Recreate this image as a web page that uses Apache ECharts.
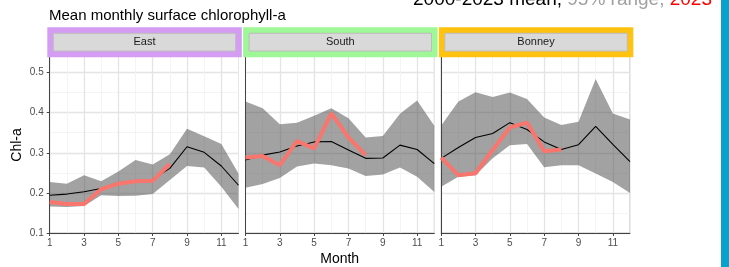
<!DOCTYPE html>
<html><head><meta charset="utf-8">
<script src="https://cdn.jsdelivr.net/npm/echarts@6/dist/echarts.min.js"></script>
<style>html,body{margin:0;padding:0;background:#fff}#c{width:729px;height:267px}</style>
</head><body><div id="c"></div>
<script>
// ---- data ----
const months = ['1','2','3','4','5','6','7','8','9','10','11','12'];
const panels = ['East','South','Bonney'];
const stripColors = ['#D59CF4','#9FF797','#FFC20E'];

const eastMean  = [0.194,0.197,0.203,0.211,0.225,0.230,0.234,0.261,0.315,0.301,0.267,0.219];
const eastUpper = [0.227,0.223,0.244,0.229,0.253,0.282,0.271,0.296,0.360,0.341,0.322,0.248];
const eastLower = [0.166,0.165,0.167,0.194,0.192,0.193,0.197,0.232,0.267,0.263,0.215,0.160];
const east2023  = [0.177,0.172,0.172,0.209,0.223,0.229,0.230,0.272];

const southMean  = [0.282,0.294,0.302,0.317,0.327,0.328,0.307,0.286,0.287,0.319,0.308,0.273];
const southUpper = [0.428,0.411,0.371,0.375,0.392,0.411,0.386,0.338,0.342,0.397,0.430,0.367];
const southLower = [0.213,0.222,0.237,0.266,0.273,0.269,0.261,0.242,0.246,0.263,0.240,0.202];
const south2023  = [0.288,0.292,0.269,0.329,0.311,0.398,0.338,0.294];

const bonneyMean  = [0.286,0.313,0.338,0.348,0.375,0.358,0.327,0.308,0.320,0.366,0.321,0.278];
const bonneyUpper = [0.368,0.428,0.451,0.439,0.450,0.434,0.388,0.369,0.377,0.484,0.398,0.383];
const bonneyLower = [0.215,0.240,0.244,0.286,0.319,0.322,0.264,0.269,0.269,0.248,0.227,0.200];
const bonney2023  = [0.288,0.244,0.249,0.307,0.363,0.375,0.304,0.308];

const yTickMin = 0.1, yTickMax = 0.6, yStep = 0.1;

const titleText = 'Mean monthly surface chlorophyll-a';
const xName = 'Month', yName = 'Chl-a';

// ---- layout ----
const FONT = 'Liberation Sans, Arial, sans-serif';
const L = [49.7, 245.5, 441.2], W = 188.8, BOTTOM = 233, PXU = 401.25;
const gTop = BOTTOM - (yTickMax - yTickMin) * PXU;
const gH = (yTickMax - yTickMin) * PXU;

const means = [eastMean, southMean, bonneyMean];
const uppers = [eastUpper, southUpper, bonneyUpper];
const lowers = [eastLower, southLower, bonneyLower];
const cur = [east2023, south2023, bonney2023];

const grids = [], xAxes = [], yAxes = [], series = [], graphics = [];
panels.forEach((p, i) => {
  grids.push({left: L[i], width: W, top: gTop, height: gH, show: true,
    backgroundColor: '#fff', borderColor: '#B8B8B8', borderWidth: 1,
    containLabel: false, outerBoundsMode: 'none'});
  xAxes.push({gridIndex: i, type: 'category', data: months, boundaryGap: false,
    axisLine: {onZero: false, lineStyle: {color: '#444', width: 1}},
    axisTick: {interval: 1, length: 3, lineStyle: {color: '#444'}},
    axisLabel: {interval: 1, color: '#4D4D4D', fontSize: 10, margin: 5, fontFamily: FONT, hideOverlap: false},
    splitLine: {show: true, interval: (idx) => idx % 2 === 0, lineStyle: {color: '#E4E4E4', width: 1.3}}});
  xAxes.push({gridIndex: i, type: 'category', data: months, boundaryGap: false, position: 'top',
    axisLine: {show: false}, axisTick: {show: false}, axisLabel: {show: false},
    splitLine: {show: true, interval: (idx) => idx % 2 === 1, lineStyle: {color: '#F1F1F1', width: 0.8}}});
  yAxes.push({gridIndex: i, type: 'value', min: yTickMin, max: yTickMax, interval: yStep,
    axisLine: {show: true, lineStyle: {color: '#444', width: 1}},
    axisTick: {show: i === 0, length: 3, lineStyle: {color: '#444'}},
    axisLabel: {show: i === 0, color: '#4D4D4D', fontSize: 10, margin: 6, fontFamily: FONT,
      showMaxLabel: false, formatter: v => v.toFixed(1)},
    splitLine: {show: true, lineStyle: {color: '#E4E4E4', width: 1.3}},
    minorTick: {show: false, splitNumber: 2},
    minorSplitLine: {show: true, lineStyle: {color: '#F1F1F1', width: 0.8}}});
  const lo = lowers[i], up = uppers[i];
  series.push({type: 'line', xAxisIndex: 2 * i, yAxisIndex: i, data: lo, stack: 'band' + i,
    symbol: 'none', silent: true, lineStyle: {opacity: 0}, z: 2});
  series.push({type: 'line', xAxisIndex: 2 * i, yAxisIndex: i,
    data: up.map((u, k) => +(u - lo[k]).toFixed(4)), stack: 'band' + i,
    symbol: 'none', silent: true, lineStyle: {opacity: 0},
    areaStyle: {color: 'rgba(70,70,70,0.5)', opacity: 1}, z: 2});
  series.push({type: 'line', xAxisIndex: 2 * i, yAxisIndex: i, data: means[i],
    symbol: 'none', lineStyle: {color: '#000', width: 1.1}, z: 3});
  series.push({type: 'line', xAxisIndex: 2 * i, yAxisIndex: i, data: cur[i],
    symbol: 'none', lineStyle: {color: '#F8766D', width: 4}, z: 4});

  // strips
  graphics.push({type: 'rect', z: 100, shape: {x: L[i] - 2.4, y: 27.3, width: 194.5, height: 30},
    style: {fill: stripColors[i]}});
  graphics.push({type: 'rect', z: 101, shape: {x: L[i] + 3.6, y: 33.3, width: 182.4, height: 17.7},
    style: {fill: '#D9D9D9', stroke: '#BDBDBD', lineWidth: 1}});
  graphics.push({type: 'text', z: 102, x: L[i] + 3.6 + 91.2, y: 42.3,
    style: {text: p, fill: '#1A1A1A', font: '11px ' + FONT, align: 'center', verticalAlign: 'middle'}});
});

graphics.push({type: 'text', z: 102, x: 49, y: 16,
  style: {text: titleText, fill: '#000', font: '15px ' + FONT, align: 'left', verticalAlign: 'middle'}});
graphics.push({type: 'text', z: 102, x: 339.7, y: 259,
  style: {text: xName, fill: '#000', font: '14px ' + FONT, align: 'center', verticalAlign: 'middle'}});
graphics.push({type: 'text', z: 102, x: 17, y: 145, rotation: Math.PI / 2,
  style: {text: yName, fill: '#000', font: '14px ' + FONT, align: 'center', verticalAlign: 'middle'}});
graphics.push({type: 'text', z: 102, x: 712, y: 0,
  style: {text: '{a|2000-2023 mean,} {b|95% range,} {c|2023}', font: '19px ' + FONT,
    align: 'right', verticalAlign: 'middle',
    rich: {a: {fill: '#000', fontSize: 19, fontFamily: FONT},
           b: {fill: '#A0A0A0', fontSize: 19, fontFamily: FONT},
           c: {fill: '#FF0000', fontSize: 19, fontFamily: FONT}}}});
graphics.push({type: 'rect', z: 102, shape: {x: 721, y: 0, width: 8, height: 267}, style: {fill: '#0AA2CD'}});

const chart = echarts.init(document.getElementById('c'), null, {renderer: 'canvas'});
chart.setOption({
  animation: false,
  backgroundColor: '#fff',
  grid: grids, xAxis: xAxes, yAxis: yAxes, series: series, graphic: graphics
});
</script>
</body></html>
